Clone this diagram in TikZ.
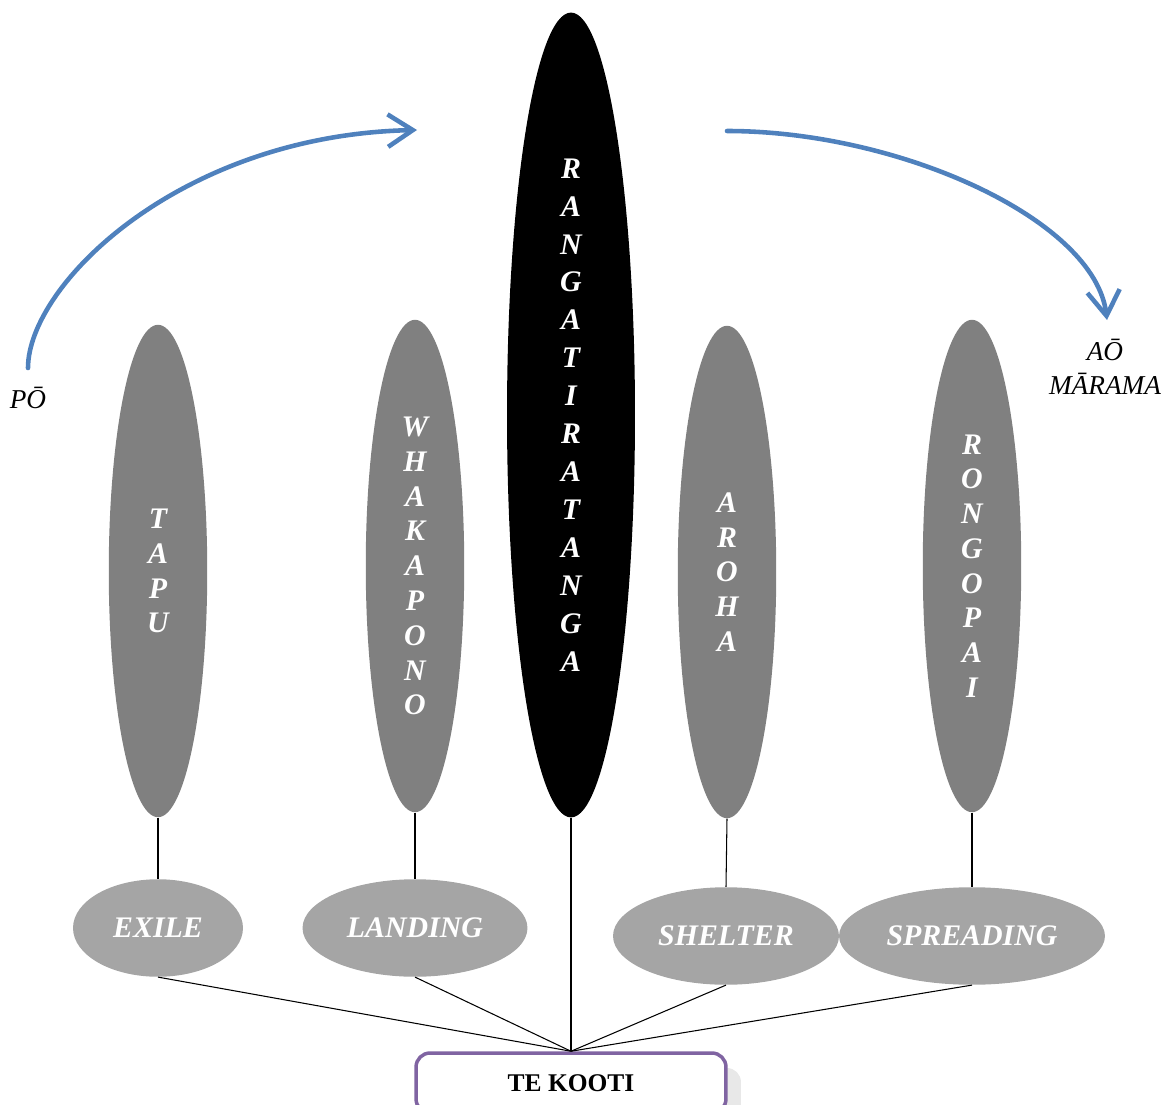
\documentclass[tikz,border=0pt]{standalone}
\usepackage{fontspec}
\setmainfont{Liberation Serif}
\usetikzlibrary{positioning, arrows.meta, shapes.geometric, shadows}
\definecolor{pillarGray}{HTML}{808080}
\definecolor{podGray}{HTML}{A5A5A5}
\definecolor{flowBlue}{HTML}{4F81BD}
\definecolor{rootPurple}{HTML}{8064A2}

\begin{document}
\begin{tikzpicture}[
  x=0.02cm, y=-0.02cm,
  >={Straight Barb[length=5mm, width=6.5mm]},
  pillar/.style={ellipse, fill=pillarGray, text=white, inner sep=0pt, align=center,
                 minimum width=1.97cm, minimum height=9.85cm,
                 font=\fontsize{17}{19.8}\selectfont\bfseries\itshape},
  pod/.style={ellipse, fill=podGray, text=white, inner sep=0pt, minimum height=1.95cm,
              font=\fontsize{17}{20}\selectfont\bfseries\itshape},
  root/.style={rectangle, draw=rootPurple, line width=2pt, rounded corners=8pt, fill=white,
               minimum width=6.2cm, minimum height=1.2cm,
               drop shadow={shadow xshift=0.3cm, shadow yshift=-0.3cm, fill=black!18},
               font=\fontsize{14.5}{17}\selectfont\bfseries},
  stem/.style={draw=black, line width=0.6pt},
  flow/.style={->, draw=flowBlue, line width=2.6pt, line cap=round},
  tag/.style={align=center, font=\fontsize{15.5}{19.3}\selectfont\itshape},
]
\useasboundingbox (0,0) rectangle (1167,1105);

% ===== Pillars ==============================================================
\node[pillar] (tapu) at (158,571) {T\\A\\P\\U};
\node[pillar] (whakapono) at (415,566) {W\\H\\A\\K\\A\\P\\O\\N\\O};
\node[pillar, fill=black, minimum width=2.56cm, minimum height=16.1cm,
      font=\fontsize{17}{21.6}\selectfont\bfseries\itshape] (ranga) at (571,415)
  {R\\A\\N\\G\\A\\T\\I\\R\\A\\T\\A\\N\\G\\A};
\node[pillar] (aroha) at (727,572) {A\\R\\O\\H\\A};
\node[pillar] (rongopai) at (972,566) {R\\O\\N\\G\\O\\P\\A\\I};

% ===== Phases ===============================================================
\node[pod, minimum width=3.4cm] (exile) at (158,928) {EXILE};
\node[pod, minimum width=4.5cm] (landing) at (415,928) {LANDING};
\node[pod, minimum width=4.52cm] (shelter) at (726,936) {SHELTER};
\node[pod, minimum width=5.32cm] (spreading) at (972,936) {SPREADING};

% ===== Root =================================================================
\node[root] (kooti) at (571,1083) {TE KOOTI};

% ===== Stems ================================================================
\draw[stem] (tapu.south) -- (exile.north);
\draw[stem] (whakapono.south) -- (landing.north);
\draw[stem] (aroha.south) -- (shelter.north);
\draw[stem] (rongopai.south) -- (spreading.north);
\draw[stem] (exile.south) -- (kooti.north);
\draw[stem] (landing.south) -- (kooti.north);
\draw[stem] (ranga.south) -- (kooti.north);
\draw[stem] (shelter.south) -- (kooti.north);
\draw[stem] (spreading.south) -- (kooti.north);

% ===== Night to day =========================================================
\node[tag] (po) at (28,398) {PŌ};
\node[tag] (ao) at (1105,367) {AŌ\\MĀRAMA};
\coordinate (duskStart) at (28,368);
\coordinate (duskEnd) at (417,130);
\coordinate (dawnStart) at (727,131);
\coordinate (dawnEnd) at (1107,320);
\draw[flow] (duskStart) .. controls (28,285) and (180,135) .. (duskEnd);
\draw[flow] (dawnStart) .. controls (900,131) and (1095,220) .. (dawnEnd);

\end{tikzpicture}
\end{document}
